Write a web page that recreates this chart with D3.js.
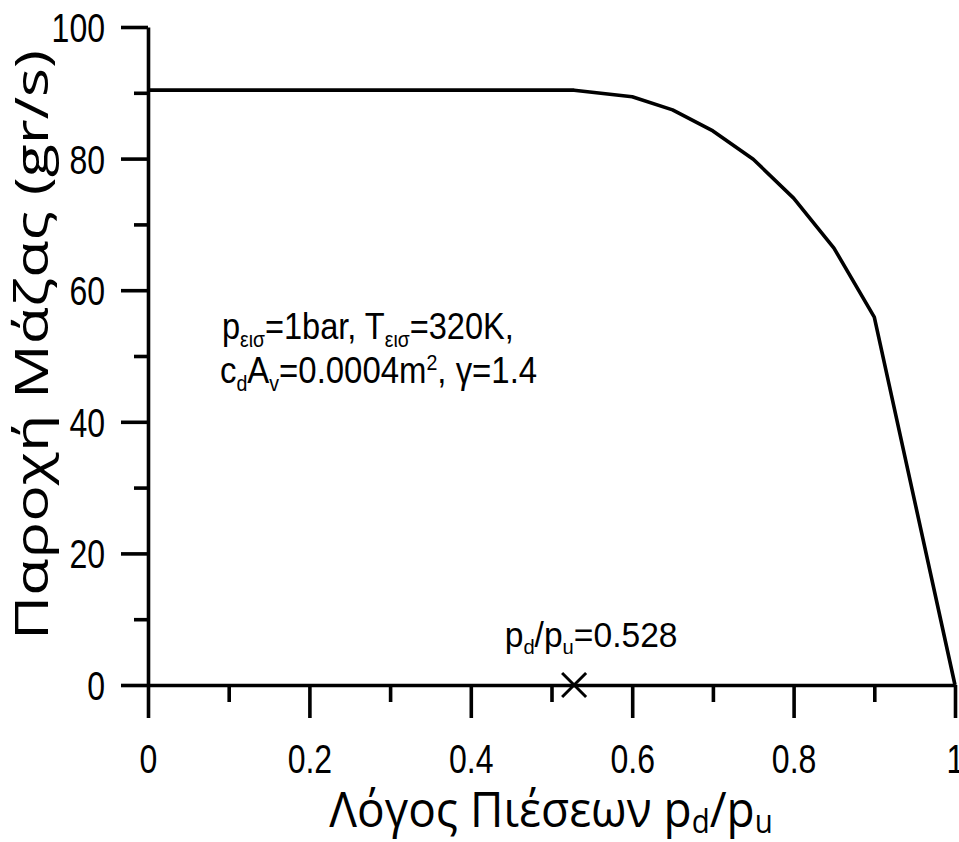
<!DOCTYPE html>
<html>
<head>
<meta charset="utf-8">
<script src="https://cdn.jsdelivr.net/npm/d3@7"></script>
<style>
  html, body { margin: 0; padding: 0; background: #fff; }
  svg { display: block; }
  .num { font-family: "Liberation Sans", Arial, sans-serif; }
  .title { font-family: "Open Sans", "Noto Sans", sans-serif; }
</style>
</head>
<body>
<svg id="chart" width="959" height="842"></svg>
<script>
// Mass flow through a valve versus pressure ratio
const pressureRatio = [0, 0.528, 0.6, 0.65, 0.7, 0.75, 0.8, 0.85, 0.9, 1.0];
const massFlow      = [90.4, 90.4, 89.4, 87.4, 84.2, 79.9, 74.0, 66.4, 55.9, 0];

const xMajorTicks = [0, 0.2, 0.4, 0.6, 0.8, 1];
const xMinorTicks = [0.1, 0.3, 0.5, 0.7, 0.9];
const yMajorTicks = [0, 20, 40, 60, 80, 100];
const yMinorTicks = [10, 30, 50, 70, 90];

const criticalRatio = 0.528;

const svg = d3.select("#chart");
const plotLeft = 148, plotRight = 955, plotTop = 27, plotBottom = 685;

const x = d3.scaleLinear().domain([0, 1]).range([plotLeft, plotRight]);
const y = d3.scaleLinear().domain([0, 100]).range([plotBottom, plotTop]);

const lw = 3.6;
const narrow = 0.8;   // horizontal squeeze for the condensed number font

function styleAxis(g) {
  g.select(".domain").attr("stroke", "#000").attr("stroke-width", lw);
  g.selectAll(".tick line").attr("stroke", "#000").attr("stroke-width", lw);
}

// squeeze tick labels horizontally around their anchor point
function condenseLabels(g, sx) {
  g.selectAll(".tick text").each(function () {
    const t = d3.select(this);
    const tx = +t.attr("x") || 0;
    t.attr("x", 0).attr("transform", `translate(${tx},0) scale(${sx},1)`);
  });
}

// y axis minor + major
svg.append("g")
  .attr("transform", `translate(${plotLeft},0)`)
  .call(d3.axisLeft(y).tickValues(yMinorTicks).tickSize(14).tickFormat(""))
  .call(g => { styleAxis(g); g.select(".domain").remove(); });

svg.append("g")
  .attr("transform", `translate(${plotLeft},0)`)
  .call(d3.axisLeft(y).tickValues(yMajorTicks).tickSize(27).tickSizeOuter(0).tickPadding(16).tickFormat(d3.format("d")))
  .call(styleAxis)
  .call(g => g.selectAll("text")
    .attr("class", "num")
    .attr("font-size", 40)
    .attr("fill", "#000")
    .attr("dy", "0.36em"))
  .call(g => condenseLabels(g, narrow));

// x axis minor + major
svg.append("g")
  .attr("transform", `translate(0,${plotBottom})`)
  .call(d3.axisBottom(x).tickValues(xMinorTicks).tickSize(17).tickFormat(""))
  .call(g => { styleAxis(g); g.select(".domain").remove(); });

svg.append("g")
  .attr("transform", `translate(0,${plotBottom})`)
  .call(d3.axisBottom(x).tickValues(xMajorTicks).tickSize(33).tickSizeOuter(0).tickPadding(27).tickFormat(d => d === 0 || d === 1 ? String(d) : d3.format(".1f")(d)))
  .call(styleAxis)
  .call(g => g.selectAll("text")
    .attr("class", "num")
    .attr("font-size", 40)
    .attr("fill", "#000")
    .attr("dy", "0.71em"))
  .call(g => condenseLabels(g, narrow));

// flow curve
const pts = pressureRatio.map((r, i) => [r, massFlow[i]]);
svg.append("path")
  .datum(pts)
  .attr("fill", "none")
  .attr("stroke", "#000")
  .attr("stroke-width", lw)
  .attr("stroke-linejoin", "round")
  .attr("d", d3.line().x(d => x(d[0])).y(d => y(d[1])));

// critical pressure ratio marker
const cx = x(criticalRatio), cy = y(0), s = 12;
svg.append("path")
  .attr("d", `M${cx - s},${cy - s}L${cx + s},${cy + s}M${cx - s},${cy + s}L${cx + s},${cy - s}`)
  .attr("stroke", "#000")
  .attr("stroke-width", 3);

const crit = svg.append("g")
  .attr("transform", `translate(${cx + 17},647) scale(0.96,1)`)
  .append("text").attr("class", "num")
  .attr("font-size", 35)
  .attr("text-anchor", "middle").attr("fill", "#000");
crit.append("tspan").text("p");
crit.append("tspan").attr("font-size", 21).attr("dy", 7).text("d");
crit.append("tspan").attr("dy", -7).text("/p");
crit.append("tspan").attr("font-size", 21).attr("dy", 7).text("u");
crit.append("tspan").attr("dy", -7).text("=" + criticalRatio);

// operating conditions note
const note1 = svg.append("g")
  .attr("transform", "translate(222,339) scale(0.88,1)")
  .append("text").attr("class", "num")
  .attr("font-size", 37).attr("fill", "#000");
note1.append("tspan").text("p");
note1.append("tspan").attr("font-size", 22).attr("dy", 8).text("εισ");
note1.append("tspan").attr("dy", -8).text("=1bar, T");
note1.append("tspan").attr("font-size", 22).attr("dy", 8).text("εισ");
note1.append("tspan").attr("dy", -8).text("=320K,");

const note2 = svg.append("g")
  .attr("transform", "translate(220,383) scale(0.89,1)")
  .append("text").attr("class", "num")
  .attr("font-size", 37).attr("fill", "#000");
note2.append("tspan").text("c");
note2.append("tspan").attr("font-size", 22).attr("dy", 8).text("d");
note2.append("tspan").attr("dy", -8).text("A");
note2.append("tspan").attr("font-size", 22).attr("dy", 8).text("v");
note2.append("tspan").attr("dy", -8).text("=0.0004m");
note2.append("tspan").attr("font-size", 22).attr("dy", -13).text("2");
note2.append("tspan").attr("dy", 13).text(", γ=1.4");

// axis titles
const xt = svg.append("g")
  .attr("transform", "translate(551,827) scale(0.92,1)")
  .append("text").attr("class", "title")
  .attr("font-size", 50)
  .attr("text-anchor", "middle").attr("fill", "#000");
xt.append("tspan").text("Λόγος Πιέσεων p");
xt.append("tspan").attr("font-size", 32).attr("dy", 6).text("d");
xt.append("tspan").attr("dy", -6).text("/p");
xt.append("tspan").attr("font-size", 32).attr("dy", 6).text("u");

svg.append("text").attr("class", "title")
  .attr("transform", "translate(48,345) rotate(-90)")
  .attr("font-size", 46)
  .attr("textLength", 590)
  .attr("lengthAdjust", "spacingAndGlyphs")
  .attr("text-anchor", "middle").attr("fill", "#000")
  .text("Παροχή Μάζας (gr/s)");
</script>
</body>
</html>
